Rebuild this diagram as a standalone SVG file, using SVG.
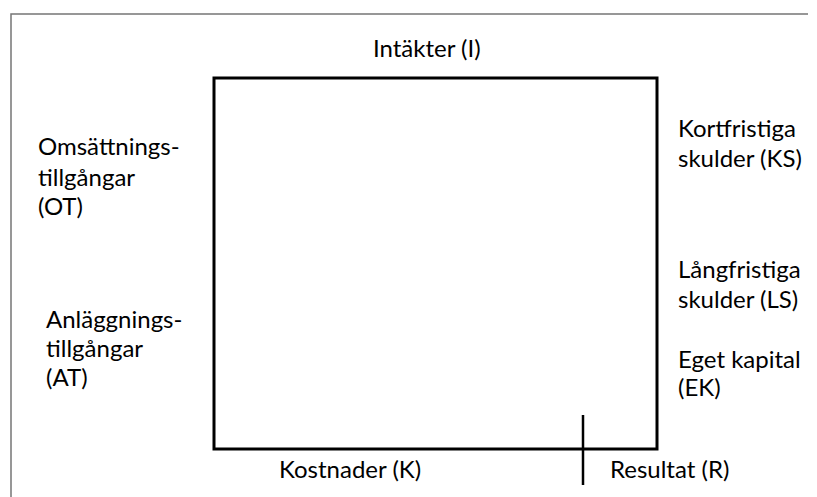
<svg xmlns="http://www.w3.org/2000/svg" width="817" height="497" viewBox="0 0 817 497">
<style>
.t{font-family:Lato,"Open Sans","Liberation Sans",sans-serif;font-size:24px;fill:#000}
.frame{fill:none;stroke:#767676;stroke-width:1.5}
.box{fill:none;stroke:#000;stroke-width:3}
</style>
<rect width="817" height="497" fill="#fff"/>
<g id="frame"><path class="frame" d="M11,497 V14 H808"/></g>
<g id="konto"><rect class="box" x="214" y="78" width="443" height="371"/></g>
<g id="connectors"><line x1="583" y1="415" x2="583" y2="485" stroke="#000" stroke-width="2.5"/></g>
<g id="intakter"><text class="t" x="373" y="57">Intäkter (I)</text></g>
<g id="ot"><text class="t" x="38"><tspan x="38" y="155">Omsättnings-</tspan><tspan x="38" y="186">tillgångar</tspan><tspan x="38" y="215">(OT)</tspan></text></g>
<g id="at"><text class="t"><tspan x="46" y="328">Anläggnings-</tspan><tspan x="46" y="357">tillgångar</tspan><tspan x="46" y="386">(AT)</tspan></text></g>
<g id="ks"><text class="t"><tspan x="678" y="137">Kortfristiga</tspan><tspan x="678" y="167">skulder (KS)</tspan></text></g>
<g id="ls"><text class="t"><tspan x="678" y="278">Långfristiga</tspan><tspan x="678" y="308">skulder (LS)</tspan></text></g>
<g id="ek"><text class="t"><tspan x="678" y="368">Eget kapital</tspan><tspan x="678" y="396">(EK)</tspan></text></g>
<g id="kostnader"><text class="t" x="279" y="478">Kostnader (K)</text></g>
<g id="resultat"><text class="t" x="610" y="478">Resultat (R)</text></g>
</svg>
